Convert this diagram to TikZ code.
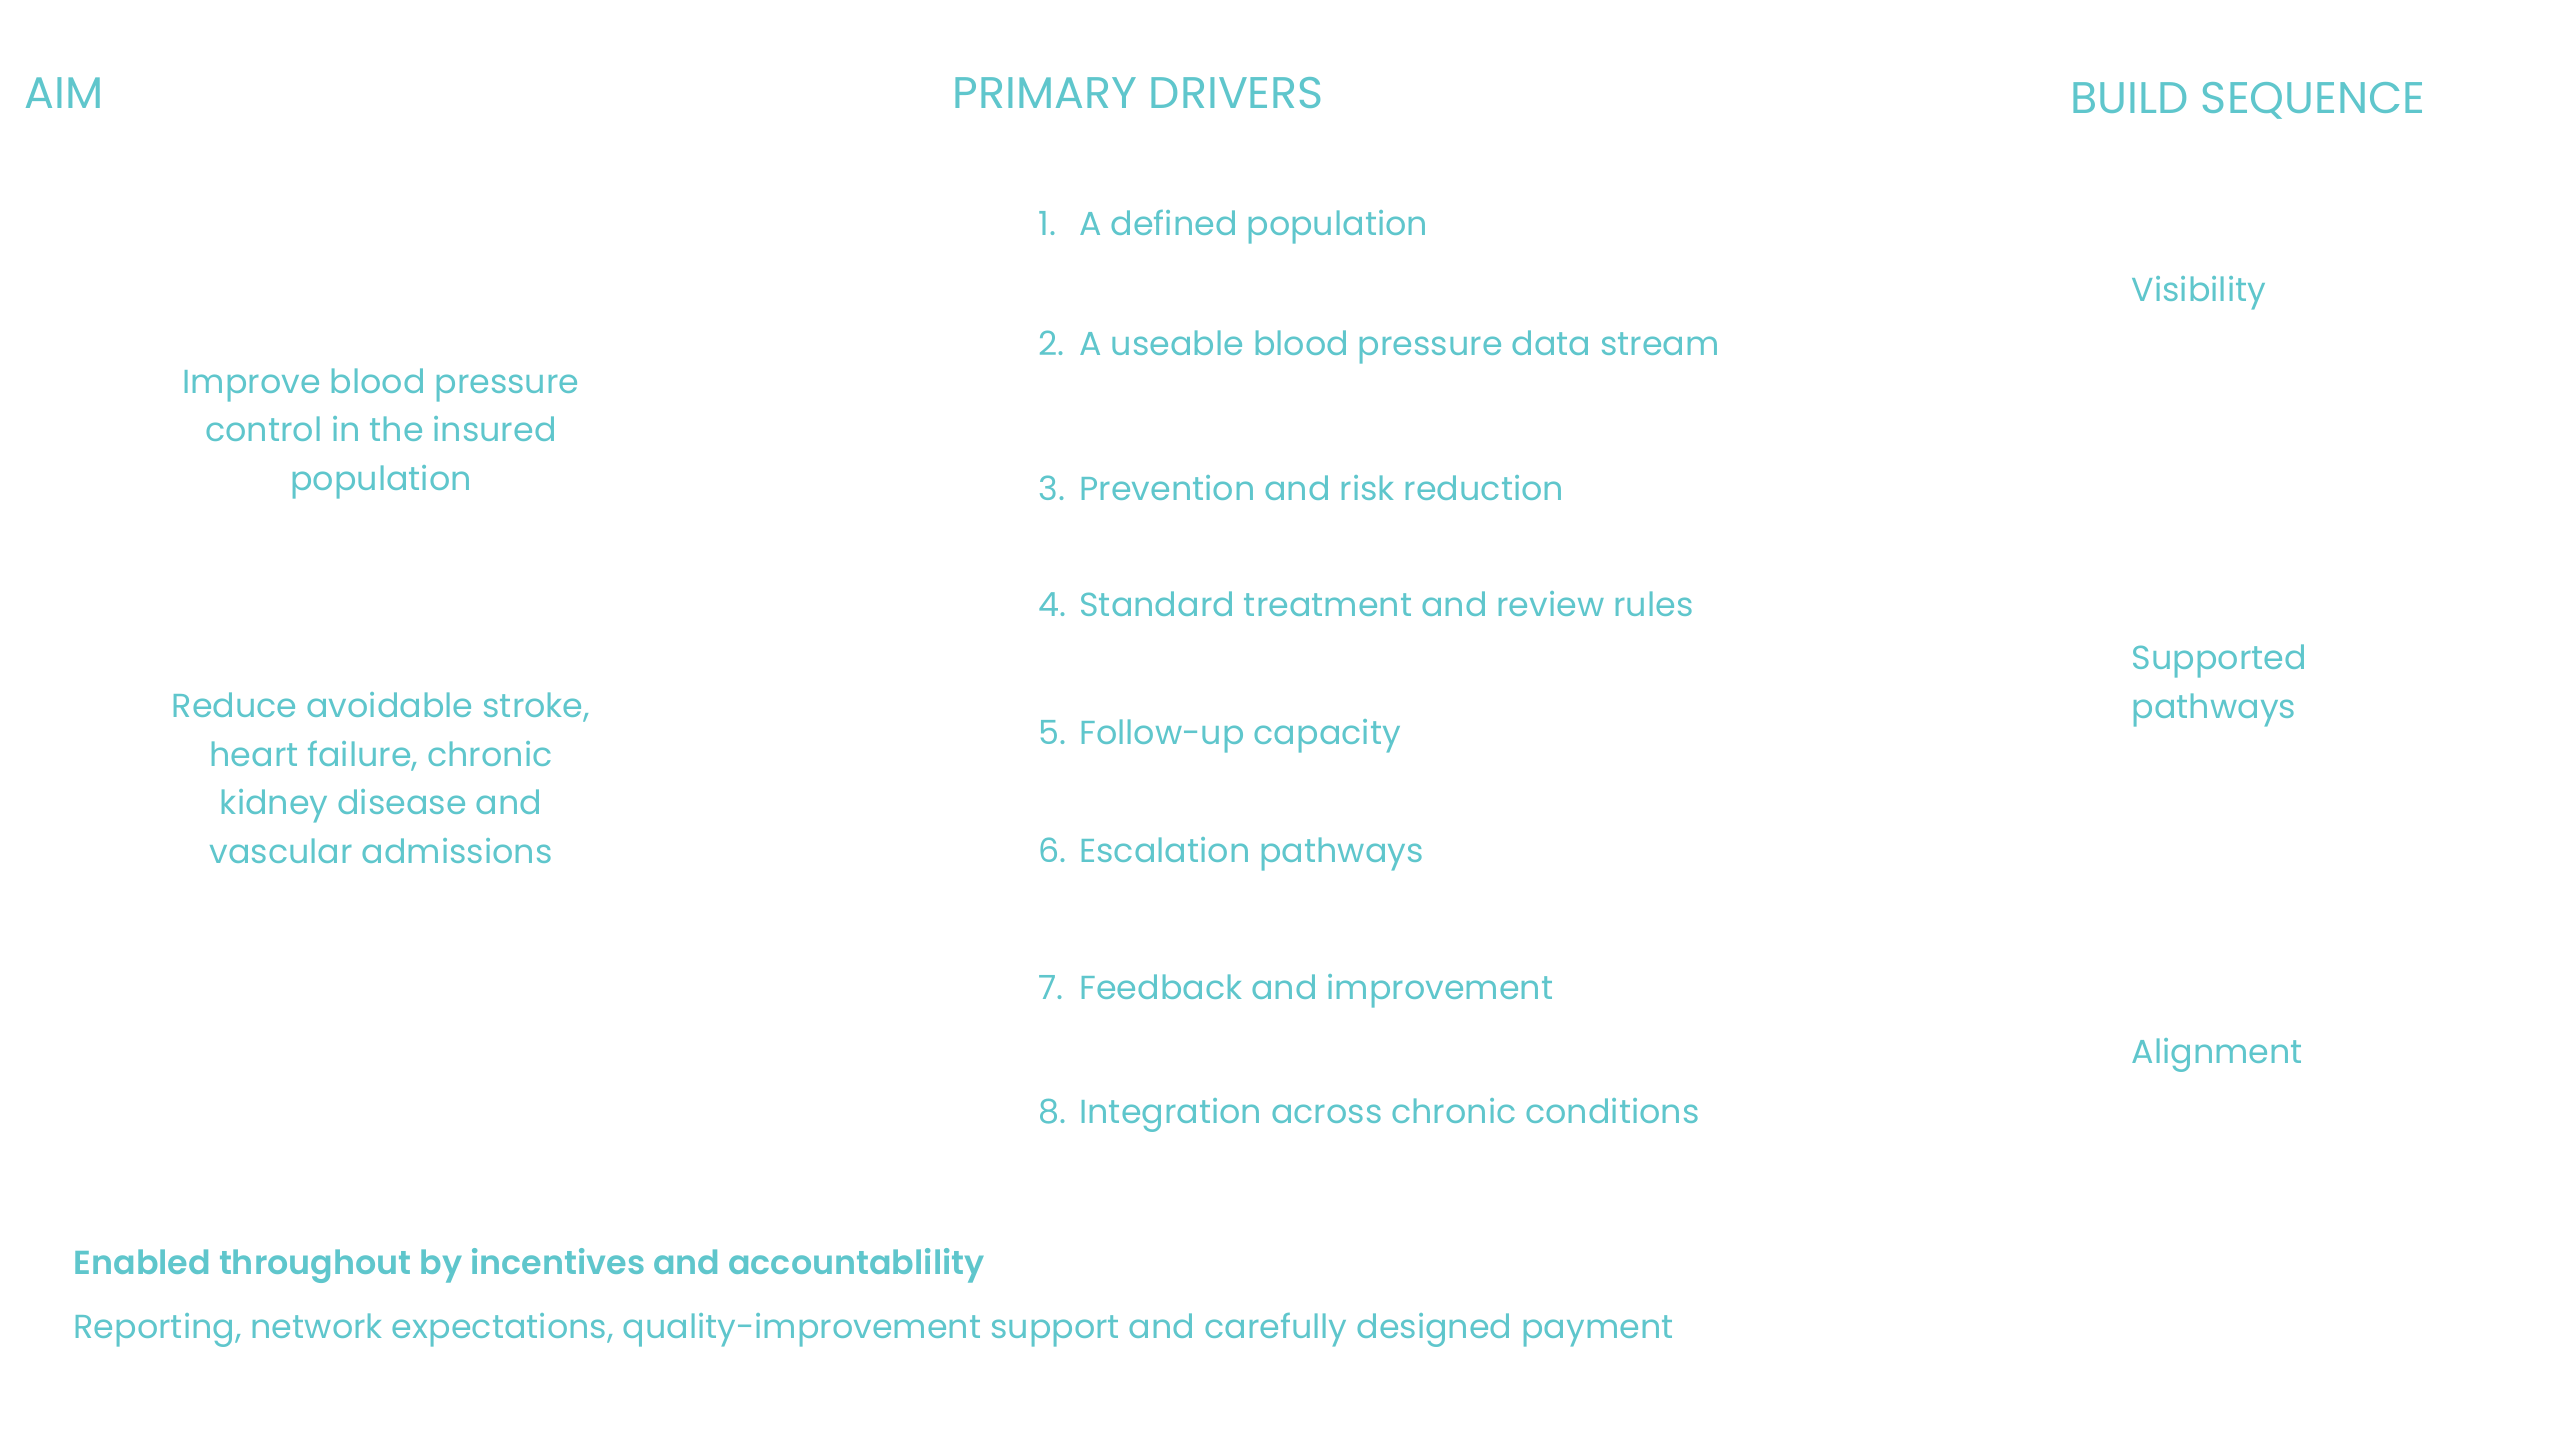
\documentclass[tikz,border=0pt]{standalone}
\usepackage{fontspec}
\setmainfont{Poppins}[BoldFont={Poppins SemiBold}]
\usetikzlibrary{positioning}
\definecolor{driverteal}{RGB}{95,198,204}

\begin{document}
\begin{tikzpicture}[x=0.01cm, y=-0.01cm, every node/.style={text=driverteal, inner sep=0pt},
	header/.style={anchor=west, font=\fontsize{12.6}{15}\selectfont},
	driver/.style={anchor=west, font=\fontsize{9.48}{13.9}\selectfont},
	aimtext/.style={align=center, font=\fontsize{9.48}{13.9}\selectfont},
	stage/.style={anchor=west, align=left, font=\fontsize{9.48}{13.9}\selectfont}]
				\useasboundingbox (0,0) rectangle (2560,1440);

				% column heads
				\node[header] (aim) at (24, 93) {AIM};
				\node[header] (drivers) at (952, 93) {PRIMARY DRIVERS};
				\node[header] (build) at (2070, 101) {BUILD SEQUENCE};

				% aims
				\node[aimtext] (aim1) at (381, 434) {Improve blood pressure\\control in the insured\\population};
				\node[aimtext] (aim2) at (381, 778) {Reduce avoidable stroke,\\heart failure, chronic\\kidney disease and\\vascular admissions};

				% primary drivers
				\node[driver] (d1) at (1038, 227) {\makebox[1.22em][l]{1.}A defined population};
				\node[driver] (d2) at (1038, 348) {\makebox[1.22em][l]{2.}A useable blood pressure data stream};
				\node[driver] (d3) at (1038, 488) {\makebox[1.22em][l]{3.}Prevention and risk reduction};
				\node[driver] (d4) at (1038, 604) {\makebox[1.22em][l]{4.}Standard treatment and review rules};
				\node[driver] (d5) at (1038, 736) {\makebox[1.22em][l]{5.}Follow-up capacity};
				\node[driver] (d6) at (1038, 854) {\makebox[1.22em][l]{6.}Escalation pathways};
				\node[driver] (d7) at (1038, 991) {\makebox[1.22em][l]{7.}Feedback and improvement};
				\node[driver] (d8) at (1038, 1115) {\makebox[1.22em][l]{8.}Integration across chronic conditions};

				% build sequence
				\node[stage] (vis) at (2131, 293) {Visibility};
				\node[stage] (supp) at (2131, 686) {Supported\\pathways};
				\node[stage] (align) at (2131, 1055) {Alignment};

				% enablers
				\node[driver, font=\fontsize{9.48}{13.9}\selectfont\bfseries] (enab) at (73, 1266) {Enabled throughout by incentives and accountablility};
				\node[driver] (report) at (73, 1330) {Reporting, network expectations, quality-improvement support and carefully designed payment};
\end{tikzpicture}
\end{document}
